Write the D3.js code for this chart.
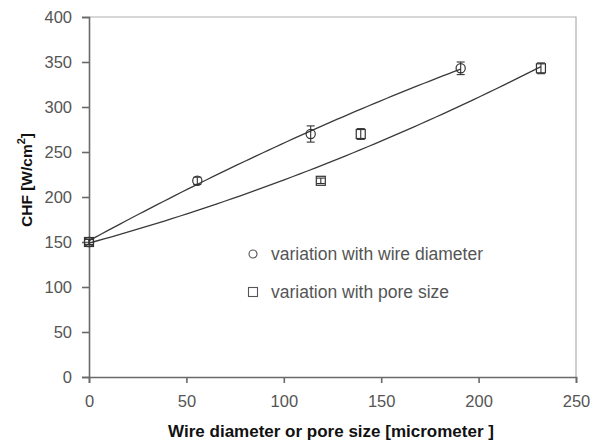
<!DOCTYPE html>
<html>
<head>
<meta charset="utf-8">
<script src="https://cdn.jsdelivr.net/npm/d3@7"></script>
<style>
  html, body { margin: 0; padding: 0; background: #fff; }
  svg { display: block; font-family: "Liberation Sans", Arial, sans-serif; }
</style>
</head>
<body>
<svg id="chart" width="591" height="446"></svg>
<script>
// CHF measurements versus wire diameter and versus pore size
const wireDiameter = [0, 55.6, 113.8, 190.8];
const wireCHF      = [150, 218, 270, 343];
const wireErr      = [3, 4, 9, 7];

const poreSize     = [0, 119, 139.5, 232];
const poreCHF      = [150, 218, 270, 343];
const poreErr      = [3, 3, 6, 6];

const xTicks = [0, 50, 100, 150, 200, 250];
const yTicks = [0, 50, 100, 150, 200, 250, 300, 350, 400];

const legendLabels = ["variation with wire diameter", "variation with pore size"];

// second-order least-squares trend line through a series
function quadFit(xs, ys) {
  const n = xs.length;
  let s = [0, 0, 0, 0, 0], t = [0, 0, 0];
  for (let i = 0; i < n; i++) {
    let p = 1;
    for (let k = 0; k <= 4; k++) { s[k] += p; if (k <= 2) t[k] += p * ys[i]; p *= xs[i]; }
  }
  const M = [[s[0], s[1], s[2], t[0]], [s[1], s[2], s[3], t[1]], [s[2], s[3], s[4], t[2]]];
  for (let i = 0; i < 3; i++) {
    for (let j = i + 1; j < 3; j++) {
      const f = M[j][i] / M[i][i];
      for (let k = i; k < 4; k++) M[j][k] -= f * M[i][k];
    }
  }
  const c = [0, 0, 0];
  for (let i = 2; i >= 0; i--) {
    let v = M[i][3];
    for (let k = i + 1; k < 3; k++) v -= M[i][k] * c[k];
    c[i] = v / M[i][i];
  }
  return x => c[0] + c[1] * x + c[2] * x * x;
}

const svg = d3.select("#chart");
const plotL = 89, plotR = 576, plotT = 17, plotB = 377;

const x = d3.scaleLinear().domain([0, 250]).range([plotL, plotR]);
const y = d3.scaleLinear().domain([0, 400]).range([plotB, plotT]);

// frame: light top and right edges
svg.append("path")
  .attr("d", `M${plotL},${plotT}H${plotR}V${plotB}`)
  .attr("fill", "none").attr("stroke", "#b0b0b0").attr("stroke-width", 1.2);

const axisColor = "#6a6a6a", labelColor = "#555";

const xAxis = svg.append("g").attr("transform", `translate(0,${plotB})`)
  .call(d3.axisBottom(x).tickValues(xTicks).tickSize(6).tickPadding(12).tickFormat(d3.format("d")));
const yAxis = svg.append("g").attr("transform", `translate(${plotL},0)`)
  .call(d3.axisLeft(y).tickValues(yTicks).tickSize(7).tickPadding(10).tickFormat(d3.format("d")));
[xAxis, yAxis].forEach(g => {
  g.select(".domain").attr("stroke", axisColor).attr("stroke-width", 1.6);
  g.selectAll(".tick line").attr("stroke", axisColor).attr("stroke-width", 1.6);
  g.selectAll(".tick text").attr("fill", labelColor).attr("font-size", 16.5)
    .attr("font-family", "Liberation Sans, Arial, sans-serif");
});

// axis titles
svg.append("text")
  .attr("x", 331).attr("y", 437)
  .attr("text-anchor", "middle").attr("font-size", 17).attr("font-weight", "bold")
  .attr("fill", "#111")
  .text("Wire diameter or pore size [micrometer ]");

const yTitle = svg.append("text")
  .attr("transform", "translate(32,180) rotate(-90)")
  .attr("text-anchor", "middle").attr("font-size", 15.5).attr("font-weight", "bold")
  .attr("fill", "#111");
yTitle.append("tspan").text("CHF [W/cm");
yTitle.append("tspan").attr("dy", -7).attr("font-size", 11).text("2");
yTitle.append("tspan").attr("dy", 7).text("]");

// trend lines
const lineColor = "#3a3a3a";
function trend(xs, ys) {
  const f = quadFit(xs, ys);
  const xMax = d3.max(xs);
  const pts = d3.range(0, 61).map(i => xMax * i / 60);
  svg.append("path")
    .attr("d", d3.line().x(d => x(d)).y(d => y(f(d)))(pts))
    .attr("fill", "none").attr("stroke", lineColor).attr("stroke-width", 1.3);
}
trend(wireDiameter, wireCHF);
trend(poreSize, poreCHF);

// error bars
function errBars(xs, ys, es) {
  const g = svg.append("g").attr("stroke", "#333").attr("stroke-width", 1.1);
  xs.forEach((xv, i) => {
    const px = x(xv), y1 = y(ys[i] - es[i]), y2 = y(ys[i] + es[i]);
    g.append("line").attr("x1", px).attr("x2", px).attr("y1", y1).attr("y2", y2);
    g.append("line").attr("x1", px - 4).attr("x2", px + 4).attr("y1", y1).attr("y2", y1);
    g.append("line").attr("x1", px - 4).attr("x2", px + 4).attr("y1", y2).attr("y2", y2);
  });
}
errBars(wireDiameter, wireCHF, wireErr);
errBars(poreSize, poreCHF, poreErr);

// markers
const markerStroke = "#333";
svg.append("g").selectAll("circle").data(wireDiameter).join("circle")
  .attr("cx", d => x(d)).attr("cy", (d, i) => y(wireCHF[i])).attr("r", 4.6)
  .attr("fill", "none").attr("stroke", markerStroke).attr("stroke-width", 1.2);
svg.append("g").selectAll("rect").data(poreSize).join("rect")
  .attr("x", d => x(d) - 4.5).attr("y", (d, i) => y(poreCHF[i]) - 4.5)
  .attr("width", 9).attr("height", 9)
  .attr("fill", "none").attr("stroke", markerStroke).attr("stroke-width", 1.2);

// legend
const legend = svg.append("g");
legend.append("circle").attr("cx", 253).attr("cy", 254).attr("r", 4)
  .attr("fill", "none").attr("stroke", "#555").attr("stroke-width", 1.1);
legend.append("rect").attr("x", 248.5).attr("y", 287.5).attr("width", 9).attr("height", 9)
  .attr("fill", "none").attr("stroke", "#555").attr("stroke-width", 1.1);
legend.selectAll("text").data(legendLabels).join("text")
  .attr("x", 271).attr("y", (d, i) => 260 + i * 38)
  .attr("font-size", 17.5).attr("fill", labelColor)
  .text(d => d);
</script>
</body>
</html>
